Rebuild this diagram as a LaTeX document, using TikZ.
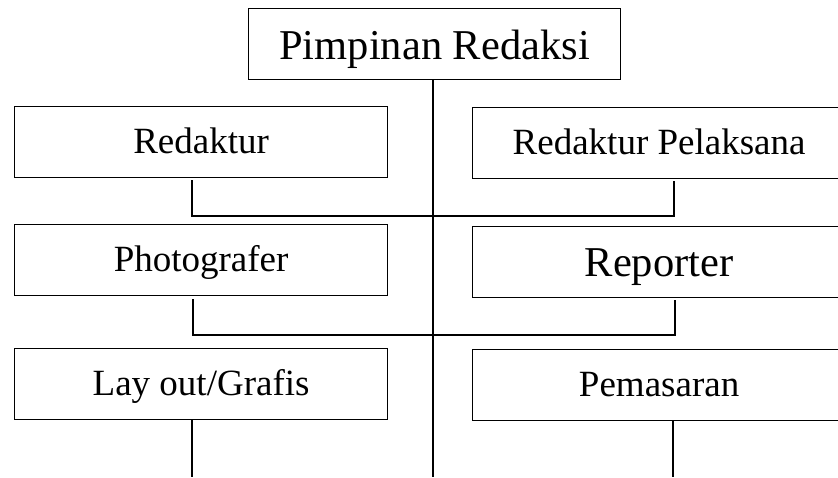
\documentclass[tikz,border=0pt]{standalone}
\usepackage{fontspec}
\setmainfont{Liberation Serif}
\begin{document}
\begin{tikzpicture}[x=1pt,y=-1pt,
  box/.style={draw, line width=1.2pt, minimum width=373pt, minimum height=71pt,
    inner sep=0pt, text height=23pt, text depth=0pt,
    font=\fontsize{37}{40}\selectfont, anchor=north west},
  big/.style={font=\fontsize{42.5}{46}\selectfont, text height=31pt},
  link/.style={line width=1.6pt},
  spine/.style={line width=1.9pt}]
\clip (0,0) rectangle (838,477);

% boxes of the chart
\node[box, big, minimum width=372pt] (chief) at (248,8) {Pimpinan Redaksi};
\node[box] (red)   at (14,106)  {Redaktur};
\node[box] (redp)  at (472,107) {Redaktur Pelaksana};
\node[box] (photo) at (14,224)  {Photografer};
\node[box, big, text height=29pt] (rep) at (472,226) {Reporter};
\node[box] (lay)   at (14,348)  {Lay out/Grafis};
\node[box] (mark)  at (472,349) {Pemasaran};

% junction points of the connectors
\coordinate (j1l) at (192,216);
\coordinate (j1r) at (674,216);
\coordinate (j2l) at (193,335);
\coordinate (j2r) at (675,335);
\coordinate (endc) at (433,477);
\coordinate (endl) at (192,477);
\coordinate (endr) at (673,477);

% central line
\draw[spine] (chief.south -| endc) -- (endc);

% first level bracket
\draw[link] ([yshift=-2pt]red.south -| j1l) -- (j1l) -- (j1r) -- ([yshift=-2pt]redp.south -| j1r);
% second level bracket
\draw[link] ([yshift=-3pt]photo.south -| j2l) -- (j2l) -- (j2r) -- ([yshift=-2pt]rep.south -| j2r);
% lower stubs
\draw[link] (lay.south -| endl) -- (endl);
\draw[link] (mark.south -| endr) -- (endr);
\end{tikzpicture}
\end{document}
